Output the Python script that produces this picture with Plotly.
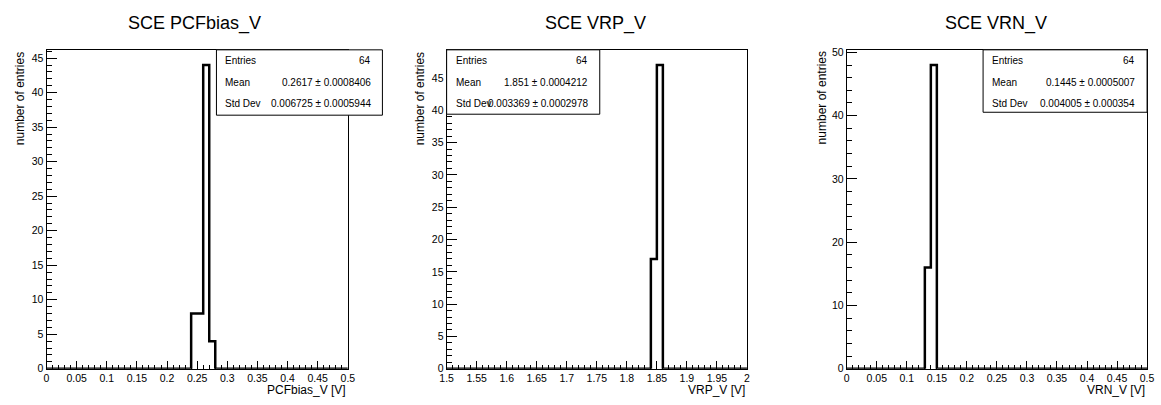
import numpy as np
import plotly.graph_objects as go

W, H = 1161, 405

# ---------------- data ----------------
titles = ["SCE PCFbias_V", "SCE VRP_V", "SCE VRN_V"]
xtitles = ["PCFbias_V [V]", "VRP_V [V]", "VRN_V [V]"]

pcf_range = [0.0, 0.5]
pcf_bin_start = [0.24, 0.25, 0.26, 0.27]
pcf_counts = [8, 8, 44, 4]

vrp_range = [1.5, 2.0]
vrp_bin_start = [1.84, 1.85]
vrp_counts = [17, 47]

vrn_range = [0.0, 0.5]
vrn_bin_start = [0.13, 0.14]
vrn_counts = [16, 48]

nbins = 50

stat_labels = ["Entries", "Mean", "Std Dev"]
pcf_stats = ["64", "0.2617 \u00b1 0.0008406", "0.006725 \u00b1 0.0005944"]
vrp_stats = ["64", "1.851 \u00b1 0.0004212", "0.003369 \u00b1 0.0002978"]
vrn_stats = ["64", "0.1445 \u00b1 0.0005007", "0.004005 \u00b1 0.000354"]

y_major = [5, 5, 10]
y_minor = [1, 1, 2]

# ---------------- layout geometry (pixels) ----------------
frames_x = [(40, 345), (445, 749), (850, 1154)]
frame_top, frame_bot = 47, 374
title_cx = [190, 596, 1001]
ytitle_x = [13, 418, 825]
stat_boxes = [(212, 380, 47, 114), (445, 600, 47, 113), (988, 1154, 47, 111)]
stat_rows_y = [57.5, 81, 102]

def fx(px):
    return px / W

def fy(py):
    return 1 - py / H

FONT = "Liberation Sans, Arial, Helvetica, sans-serif"

fig = go.Figure()
shapes = []
annotations = []

datasets = [
    (pcf_range, pcf_bin_start, pcf_counts, pcf_stats),
    (vrp_range, vrp_bin_start, vrp_counts, vrp_stats),
    (vrn_range, vrn_bin_start, vrn_counts, vrn_stats),
]

for i, (rng, starts, cnts, stats) in enumerate(datasets):
    lo, hi = rng
    width = (hi - lo) / nbins
    counts = np.zeros(nbins)
    for s, c in zip(starts, cnts):
        counts[int(round((s - lo) / width))] = c
    edges = lo + width * np.arange(nbins + 1)
    ys = np.concatenate([counts, [counts[-1]]])
    xa = "x" if i == 0 else f"x{i+1}"
    ya = "y" if i == 0 else f"y{i+1}"
    fig.add_trace(go.Scatter(
        x=edges, y=ys, mode="lines", line=dict(shape="hv", color="black", width=2.5),
        xaxis=xa, yaxis=ya, showlegend=False, hoverinfo="skip",
    ))
    ymax = max(cnts) * 1.05
    x0, x1 = frames_x[i]
    key = "" if i == 0 else str(i + 1)
    fig.layout["xaxis" + key] = dict(
        domain=[fx(x0), fx(x1)], range=[lo, hi], anchor=ya,
        showline=True, mirror=True, linecolor="black", linewidth=1,
        ticks="inside", ticklen=8, tickwidth=1, tickcolor="black",
        dtick=0.05, tick0=lo, showgrid=False, zeroline=False,
        minor=dict(ticks="inside", ticklen=4, dtick=0.01, tick0=lo, tickcolor="black", showgrid=False),
        tickfont=dict(family=FONT, size=10.5, color="black"),
    )
    fig.layout["yaxis" + key] = dict(
        domain=[fy(frame_bot), fy(frame_top)], range=[0, ymax], anchor=xa,
        showline=True, mirror=True, linecolor="black", linewidth=1,
        ticks="inside", ticklen=10, tickwidth=1, tickcolor="black",
        dtick=y_major[i], tick0=0, showgrid=False, zeroline=False,
        minor=dict(ticks="inside", ticklen=5, dtick=y_minor[i], tick0=0, tickcolor="black", showgrid=False),
        tickfont=dict(family=FONT, size=10.5, color="black"),
    )
    # title
    annotations.append(dict(
        text=titles[i], x=fx(title_cx[i]), y=fy(20), xref="paper", yref="paper",
        xanchor="center", yanchor="middle", showarrow=False,
        font=dict(family=FONT, size=18, color="black"),
    ))
    # x title
    annotations.append(dict(
        text=xtitles[i], x=fx(x1), y=fy(404.5), xref="paper", yref="paper",
        xanchor="right", yanchor="bottom", showarrow=False,
        font=dict(family=FONT, size=12, color="black"),
    ))
    # y title
    annotations.append(dict(
        text="number of entries", x=fx(ytitle_x[i]), y=fy(frame_top), xref="paper", yref="paper",
        xanchor="center", yanchor="top", showarrow=False, textangle=-90,
        font=dict(family=FONT, size=12, color="black"),
    ))
    # stats box
    bx0, bx1, by0, by1 = stat_boxes[i]
    shapes.append(dict(
        type="rect", xref="paper", yref="paper",
        x0=fx(bx0), x1=fx(bx1), y0=fy(by1), y1=fy(by0),
        line=dict(color="black", width=1), fillcolor="white", layer="above",
    ))
    for r in range(3):
        annotations.append(dict(
            text=stat_labels[r], x=fx(bx0 + 7), y=fy(stat_rows_y[r]), xref="paper", yref="paper",
            xanchor="left", yanchor="middle", showarrow=False,
            font=dict(family=FONT, size=10, color="black"),
        ))
        annotations.append(dict(
            text=stats[r], x=fx(bx1 - 10), y=fy(stat_rows_y[r]), xref="paper", yref="paper",
            xanchor="right", yanchor="middle", showarrow=False,
            font=dict(family=FONT, size=10, color="black"),
        ))

fig.update_layout(
    width=W, height=H, margin=dict(l=0, r=0, t=0, b=0),
    paper_bgcolor="white", plot_bgcolor="white",
    shapes=shapes, annotations=annotations, showlegend=False,
)

fig.write_html("out.html")
